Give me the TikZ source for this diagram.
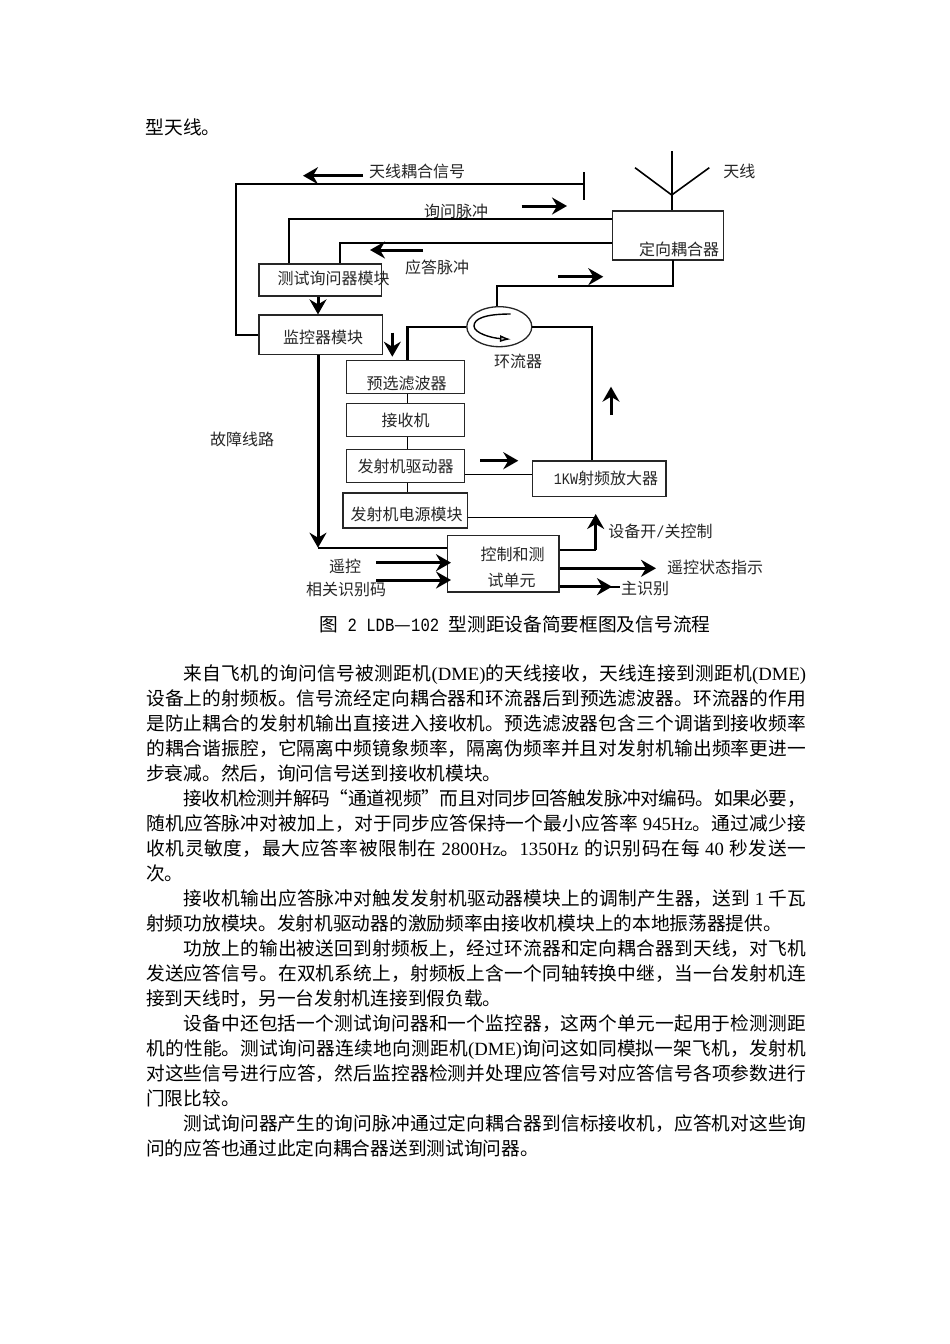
\documentclass[tikz,border=0pt]{standalone}
\usepackage{fontspec}
\setmainfont{Liberation Serif}
\newfontfamily\cjk{Noto Sans CJK SC}
\newfontfamily\monolatin[FakeStretch=0.835]{Liberation Mono}
\usetikzlibrary{arrows.meta, positioning, calc, shapes.geometric}
\XeTeXlinebreaklocale "zh"
\XeTeXlinebreakskip=0pt plus 1.5pt minus 0.6pt
\newcommand{\lat}[1]{{\rmfamily #1}}
\newcommand{\half}[1]{{\monolatin #1}}
\newcommand{\dou}{^^^^ff0c}
\definecolor{InkGray}{HTML}{262626}
\tikzset{
  blockbox/.style={draw=InkGray, line width=1.3pt, inner sep=0pt, align=center, font=\fontsize{16}{18}\selectfont\cjk, text=InkGray},
  tag/.style={inner sep=0pt, align=center, font=\fontsize{16}{18}\selectfont\cjk, text=InkGray},
  pagetext/.style={inner sep=0pt, font=\fontsize{18.7}{25}\selectfont\cjk, text=black},
  wire/.style={draw=black, line width=2.2pt},
  thinwire/.style={draw=black, line width=1.6pt},
  flow/.style={-{Stealth[length=15pt, width=17pt, inset=5pt]}, draw=black, line width=3pt}
}
\begin{document}
\begin{tikzpicture}[x=1pt, y=-1pt]
\useasboundingbox[fill=white] (0,0) rectangle (950,1344);
% page text above the figure
\node[pagetext, anchor=west] (intro) at (145.5,127) {型天线。};
% blocks
\node[blockbox, minimum width=111pt, minimum height=49pt] (coupler) at (667.8,235.5) {};
\node[tag] (couplerText) at (679,249) {定向耦合器};
\node[blockbox, minimum width=122.7pt, minimum height=32pt] (test) at (320.3,280) {};
\node[tag] (testText) at (333.5,278) {测试询问器模块};
\node[blockbox, minimum width=123.7pt, minimum height=39.7pt] (monitor) at (320.8,334.9) {};
\node[tag] (monitorText) at (323,337.7) {监控器模块};
\node[blockbox, minimum width=118.4pt, minimum height=32.6pt] (filter) at (405.5,377) {};
\node[tag] (filterText) at (406.7,383) {预选滤波器};
\node[blockbox, minimum width=118.4pt, minimum height=33.4pt] (receiver) at (405.5,420) {接收机};
\node[blockbox, minimum width=118.4pt, minimum height=33.4pt] (driver) at (405.5,466) {发射机驱动器};
\node[blockbox, minimum width=124.7pt, minimum height=35pt] (power) at (405.3,510.5) {};
\node[tag] (powerText) at (406.7,514) {发射机电源模块};
\node[blockbox, minimum width=133.7pt, minimum height=35.3pt] (amp) at (599.2,478.6) {};
\node[tag] (ampText) at (606,478.3) {\half{1KW}射频放大器};
\node[blockbox, minimum width=111.3pt, minimum height=56.3pt] (control) at (503.3,563.8) {};
\node[tag] (controlTextA) at (512.7,554) {控制和测};
\node[tag] (controlTextB) at (511.7,580) {试单元};
\node[ellipse, draw=InkGray, line width=1.3pt, inner sep=0pt, minimum width=65pt, minimum height=40pt] (circ) at (499.3,326.7) {};
% labels
\node[tag] (couplingText) at (417,171) {天线耦合信号};
\node[tag] (queryText) at (456,211) {询问脉冲};
\node[tag] (replyText) at (437,267) {应答脉冲};
\node[tag] (antText) at (739.3,171) {天线};
\node[tag] (circText) at (518,361) {环流器};
\node[tag] (faultText) at (242,439) {故障线路};
\node[tag] (remoteText) at (345,566.7) {遥控};
\node[tag] (identText) at (346,589) {相关识别码};
\node[tag] (switchText) at (660.5,531) {设备开\half{/}关控制};
\node[tag] (statusText) at (715,567) {遥控状态指示};
\node[tag] (mainidText) at (645,588) {主识别};
% antenna
\coordinate (antTop) at (671.7,151);
\coordinate (antBase) at (671.7,195);
\coordinate (antL) at (635,167.7);
\coordinate (antR) at (709.3,167.7);
\draw[wire] (antTop) -- (coupler.north -| antTop);
\draw[thinwire] (antL) -- (antBase) -- (antR);
% coupling line
\coordinate (topLeft) at (236,183.7);
\coordinate (barEnd) at (584,183.7);
\coordinate (barTop) at (584,172);
\coordinate (barBottom) at (584,200);
\draw[wire] (monitor.west) -| (topLeft) -- (barEnd);
\draw[wire] (barTop) -- (barBottom);
% lines to the coupler
\coordinate (queryLeft) at (288.6,219);
\coordinate (replyLeft) at (340,243);
\draw[wire] (queryLeft |- test.north) -- (queryLeft) -- (queryLeft -| coupler.west);
\draw[thinwire] (replyLeft |- test.north) -- (replyLeft) -- (replyLeft -| coupler.west);
% fault line
\coordinate (faultEnd) at (318,547.7);
\draw[flow] (test.south -| faultEnd) -- (monitor.north -| faultEnd);
\draw[flow] (monitor.south -| faultEnd) -- (faultEnd);
\draw[thinwire] (faultEnd) -- (faultEnd -| control.west);
% receive chain
\coordinate (chain) at (407.5,400);
\draw[wire] (filter.north -| chain) |- (circ.west);
\draw[thinwire] (filter.south -| chain) -- (receiver.north -| chain);
\draw[thinwire] (receiver.south -| chain) -- (driver.north -| chain);
\draw[thinwire] (driver.south -| chain) -- (power.north -| chain);
% circulator
\coordinate (loopTop) at (496.7,286);
\coordinate (couplerDown) at (673.3,260);
\coordinate (ampUp) at (592,400);
\draw[wire] (circ.north -| loopTop) -- (loopTop) -- (loopTop -| couplerDown) -- (couplerDown);
\draw[wire] (amp.north -| ampUp) |- (circ.east);
\coordinate (swirlA) at (510.7,314);
\coordinate (swirlB) at (474,326);
\coordinate (swirlC) at (511,339.3);
\draw[line width=1.4pt, -{Latex[open, length=11pt, width=7pt, fill=lightgray]}] (swirlA) .. controls (484,314) and (474,319) .. (swirlB) .. controls (474,333) and (491,338) .. (swirlC);
% driver, power, control
\coordinate (driveLine) at (500,474.3);
\coordinate (switchLine) at (595.7,517.3);
\coordinate (switchCorner) at (595.7,550);
\coordinate (switchTop) at (595.7,514);
\coordinate (statusEnd) at (656,568.3);
\coordinate (mainidEnd) at (612,586.7);
\coordinate (mainidTail) at (620,586.7);
\coordinate (remoteFrom) at (376,562.7);
\coordinate (remoteEnd) at (451,562.7);
\coordinate (identFrom) at (376,580);
\coordinate (identEnd) at (451,580);
\draw[thinwire] (driveLine -| driver.east) -- (driveLine -| amp.west);
\draw[thinwire] (switchLine -| power.east) -- (switchLine);
\draw[thinwire] (switchCorner -| control.east) -- (switchCorner);
\draw[flow] (switchCorner) -- (switchTop);
\draw[flow] (statusEnd -| control.east) -- (statusEnd);
\draw[thinwire] (mainidEnd -| control.east) -- (mainidTail);
\draw[flow] (mainidEnd -| control.east) -- (mainidEnd);
\draw[flow] (remoteFrom) -- (remoteEnd);
\draw[flow] (identFrom) -- (identEnd);
% loose direction arrows
\coordinate (a1) at (363,175.7); \coordinate (a2) at (303,175.7);
\coordinate (b1) at (521.7,206); \coordinate (b2) at (567,206);
\coordinate (c1) at (423,250); \coordinate (c2) at (370,250);
\coordinate (d1) at (558.3,276.7); \coordinate (d2) at (603.3,276.7);
\coordinate (e1) at (392.3,332.7); \coordinate (e2) at (392.3,356.7);
\coordinate (f1) at (480,460.7); \coordinate (f2) at (518.3,460.7);
\coordinate (g1) at (611,415); \coordinate (g2) at (611,386.7);
\draw[flow] (a1) -- (a2);
\draw[flow] (b1) -- (b2);
\draw[flow] (c1) -- (c2);
\draw[flow] (d1) -- (d2);
\draw[flow] (e1) -- (e2);
\draw[flow] (f1) -- (f2);
\draw[flow] (g1) -- (g2);
% caption and body
\node[pagetext] (caption) at (515,624) {图\half{\ 2 LDB}—\half{102\ }型测距设备简要框图及信号流程};
\node[pagetext, anchor=north west, text width=660pt, align=justify] (body) at (146,665) {%
\hspace*{37.4pt}来自飞机的询问信号被测距机\lat{(DME)}的天线接收\dou{}天线连接到测距机\lat{(DME)}\linebreak
设备上的射频板。信号流经定向耦合器和环流器后到预选滤波器。环流器的作用\linebreak
是防止耦合的发射机输出直接进入接收机。预选滤波器包含三个调谐到接收频率\linebreak
的耦合谐振腔\dou{}它隔离中频镜象频率\dou{}隔离伪频率并且对发射机输出频率更进一\linebreak
步衰减。然后\dou{}询问信号送到接收机模块。\par
\hspace*{37.4pt}接收机检测并解码“通道视频”而且对同步回答触发脉冲对编码。如果必要\dou\linebreak
随机应答脉冲对被加上\dou{}对于同步应答保持一个最小应答率 \lat{945Hz}。通过减少接\linebreak
收机灵敏度\dou{}最大应答率被限制在 \lat{2800Hz}。\lat{1350Hz} 的识别码在每 \lat{40} 秒发送一\linebreak
次。\par
\hspace*{37.4pt}接收机输出应答脉冲对触发发射机驱动器模块上的调制产生器\dou{}送到 \lat{1} 千瓦\linebreak
射频功放模块。发射机驱动器的激励频率由接收机模块上的本地振荡器提供。\par
\hspace*{37.4pt}功放上的输出被送回到射频板上\dou{}经过环流器和定向耦合器到天线\dou{}对飞机\linebreak
发送应答信号。在双机系统上\dou{}射频板上含一个同轴转换中继\dou{}当一台发射机连\linebreak
接到天线时\dou{}另一台发射机连接到假负载。\par
\hspace*{37.4pt}设备中还包括一个测试询问器和一个监控器\dou{}这两个单元一起用于检测测距\linebreak
机的性能。测试询问器连续地向测距机\lat{(DME)}询问这如同模拟一架飞机\dou{}发射机\linebreak
对这些信号进行应答\dou{}然后监控器检测并处理应答信号对应答信号各项参数进行\linebreak
门限比较。\par
\hspace*{37.4pt}测试询问器产生的询问脉冲通过定向耦合器到信标接收机\dou{}应答机对这些询\linebreak
问的应答也通过此定向耦合器送到测试询问器。\par};
\end{tikzpicture}
\end{document}
